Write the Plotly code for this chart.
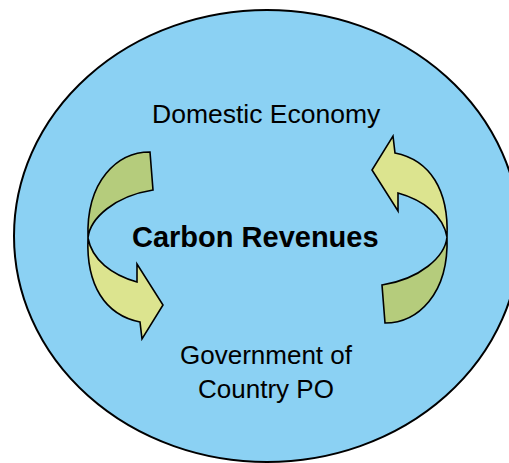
import plotly.graph_objects as go

# Text content
labels = ["Domestic Economy", "<b>Carbon Revenues</b>", "Government of<br>Country PO"]
label_x = [266, 255, 266]
label_y = [114, 237, 372]
label_size = [26.5, 29, 26]

W, H = 509, 463

# Geometry of the diagram (pixel-like units)
ELLIPSE = dict(x0=14, x1=520, y0=10, y1=462)

# Left twisted arrow, tail part (upper, darker) and head part (lower, lighter)
tail_part = [("M", [(150, 152)]),
             ("C", [(118, 152), (86, 180), (88, 238)]),
             ("C", [(90, 218), (115, 196), (153, 190)]),
             ("Z", [])]
head_part = [("M", [(88, 238)]),
             ("C", [(86, 285), (105, 315), (140, 322)]),
             ("L", [(142, 339)]),
             ("L", [(163, 305)]),
             ("L", [(137, 264)]),
             ("L", [(137, 282)]),
             ("C", [(112, 275), (92, 260), (88, 238)]),
             ("Z", [])]


def to_path(segs, rot=False):
    out = []
    for cmd, pts in segs:
        s = cmd
        for (x, y) in pts:
            if rot:
                x, y = 535 - x, 475 - y
            s += f" {x},{y}"
        out.append(s)
    return " ".join(out)


DARK = "#B5CC7C"
LIGHT = "#DCE48F"
BLUE = "#8BD1F3"

shapes = [dict(type="circle", xref="x", yref="y", **ELLIPSE,
               fillcolor=BLUE, line=dict(color="black", width=2), layer="below")]
for rot in (False, True):
    shapes.append(dict(type="path", xref="x", yref="y", path=to_path(tail_part, rot),
                       fillcolor=DARK, line=dict(color="black", width=1.6)))
    shapes.append(dict(type="path", xref="x", yref="y", path=to_path(head_part, rot),
                       fillcolor=LIGHT, line=dict(color="black", width=1.6)))

fig = go.Figure()
fig.add_trace(go.Scatter(x=[0], y=[0], mode="markers", marker=dict(opacity=0),
                         hoverinfo="skip", showlegend=False))

annotations = [dict(x=x, y=y, xref="x", yref="y", text=t, showarrow=False,
                    font=dict(family="Liberation Sans, Arial, sans-serif", size=s, color="black"),
                    xanchor="center", yanchor="middle")
               for t, x, y, s in zip(labels, label_x, label_y, label_size)]

fig.update_layout(
    width=W, height=H,
    margin=dict(l=0, r=0, t=0, b=0),
    paper_bgcolor="white", plot_bgcolor="white",
    xaxis=dict(range=[0, W], visible=False, fixedrange=True),
    yaxis=dict(range=[H, 0], visible=False, fixedrange=True),
    shapes=shapes, annotations=annotations,
    showlegend=False,
)
fig.write_html("out.html", config={"displayModeBar": False},
               post_script="document.body.style.margin='0';document.body.style.overflow='hidden';")
